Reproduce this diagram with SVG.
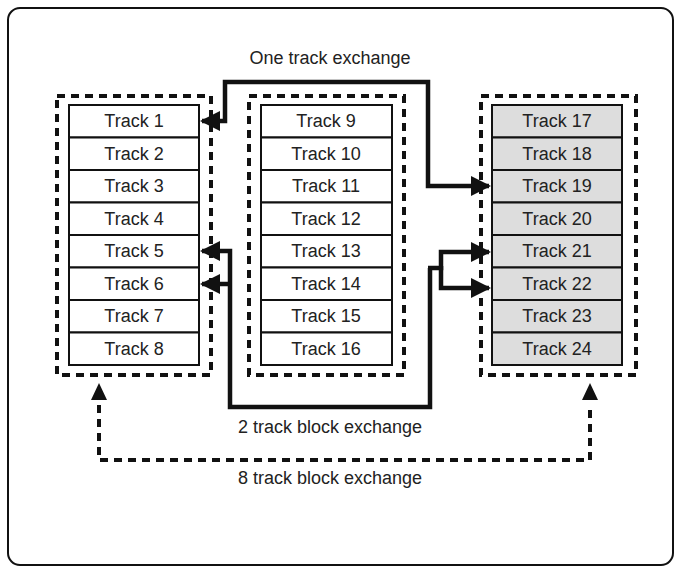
<svg xmlns="http://www.w3.org/2000/svg" width="681" height="573" viewBox="0 0 681 573">
<style>
text{font-family:"Liberation Sans",Arial,sans-serif;font-size:18px;fill:#222;text-anchor:middle}
.c{fill:#fff;stroke:#111;stroke-width:2}
.g{fill:#ddd;stroke:#111;stroke-width:2}
.d{fill:none;stroke:#111;stroke-width:4;stroke-dasharray:8,6}
.w{fill:none;stroke:#111;stroke-width:4.5}
</style>
<defs><marker id="a" viewBox="0 0 10 10" refX="9" refY="5" markerWidth="4.5" markerHeight="4.5" orient="auto-start-reverse" markerUnits="strokeWidth"><path d="M0,0L10,5L0,10z" fill="#111"/></marker></defs>
<rect x="8" y="8" width="665" height="557" rx="12" fill="#fff" stroke="#111" stroke-width="2"/>
<g id="col1"><rect class="d" x="57" y="96" width="154" height="279"/>
<g id="t1"><rect class="c" x="69" y="105" width="130" height="32.5"/><text x="134" y="127">Track 1</text></g>
<g id="t2"><rect class="c" x="69" y="137.5" width="130" height="32.5"/><text x="134" y="160">Track 2</text></g>
<g id="t3"><rect class="c" x="69" y="170" width="130" height="32.5"/><text x="134" y="192">Track 3</text></g>
<g id="t4"><rect class="c" x="69" y="202.5" width="130" height="32.5"/><text x="134" y="225">Track 4</text></g>
<g id="t5"><rect class="c" x="69" y="235" width="130" height="32.5"/><text x="134" y="257">Track 5</text></g>
<g id="t6"><rect class="c" x="69" y="267.5" width="130" height="32.5"/><text x="134" y="290">Track 6</text></g>
<g id="t7"><rect class="c" x="69" y="300" width="130" height="32.5"/><text x="134" y="322">Track 7</text></g>
<g id="t8"><rect class="c" x="69" y="332.5" width="130" height="32.5"/><text x="134" y="355">Track 8</text></g></g>
<g id="col2"><rect class="d" x="249" y="96" width="155" height="279"/>
<g id="t9"><rect class="c" x="261" y="105" width="131" height="32.5"/><text x="326" y="127">Track 9</text></g>
<g id="t10"><rect class="c" x="261" y="137.5" width="131" height="32.5"/><text x="326" y="160">Track 10</text></g>
<g id="t11"><rect class="c" x="261" y="170" width="131" height="32.5"/><text x="326" y="192">Track 11</text></g>
<g id="t12"><rect class="c" x="261" y="202.5" width="131" height="32.5"/><text x="326" y="225">Track 12</text></g>
<g id="t13"><rect class="c" x="261" y="235" width="131" height="32.5"/><text x="326" y="257">Track 13</text></g>
<g id="t14"><rect class="c" x="261" y="267.5" width="131" height="32.5"/><text x="326" y="290">Track 14</text></g>
<g id="t15"><rect class="c" x="261" y="300" width="131" height="32.5"/><text x="326" y="322">Track 15</text></g>
<g id="t16"><rect class="c" x="261" y="332.5" width="131" height="32.5"/><text x="326" y="355">Track 16</text></g></g>
<g id="col3"><rect class="d" x="481" y="96" width="155" height="279"/>
<g id="t17"><rect class="g" x="492" y="105" width="130" height="32.5"/><text x="557" y="127">Track 17</text></g>
<g id="t18"><rect class="g" x="492" y="137.5" width="130" height="32.5"/><text x="557" y="160">Track 18</text></g>
<g id="t19"><rect class="g" x="492" y="170" width="130" height="32.5"/><text x="557" y="192">Track 19</text></g>
<g id="t20"><rect class="g" x="492" y="202.5" width="130" height="32.5"/><text x="557" y="225">Track 20</text></g>
<g id="t21"><rect class="g" x="492" y="235" width="130" height="32.5"/><text x="557" y="257">Track 21</text></g>
<g id="t22"><rect class="g" x="492" y="267.5" width="130" height="32.5"/><text x="557" y="290">Track 22</text></g>
<g id="t23"><rect class="g" x="492" y="300" width="130" height="32.5"/><text x="557" y="322">Track 23</text></g>
<g id="t24"><rect class="g" x="492" y="332.5" width="130" height="32.5"/><text x="557" y="355">Track 24</text></g></g>
<g id="connectors">
<path class="w" d="M489,186H428V82H225V121H202" marker-start="url(#a)" marker-end="url(#a)"/>
<path class="w" d="M430,268V407H230V251H202" marker-end="url(#a)"/>
<path class="w" d="M230,284H202" marker-end="url(#a)"/>
<path class="w" d="M428,268H441V252H489" marker-end="url(#a)"/>
<path class="w" d="M441,266V288H489" marker-end="url(#a)"/>
<path class="d" d="M99,405V460H590V405" />
<path d="M91,400L99,383L107,400z M582,400L590,383L598,400z" fill="#111"/>
</g>
<text x="330" y="64">One track exchange</text>
<text x="330" y="433">2 track block exchange</text>
<text x="330" y="484">8 track block exchange</text>
</svg>
